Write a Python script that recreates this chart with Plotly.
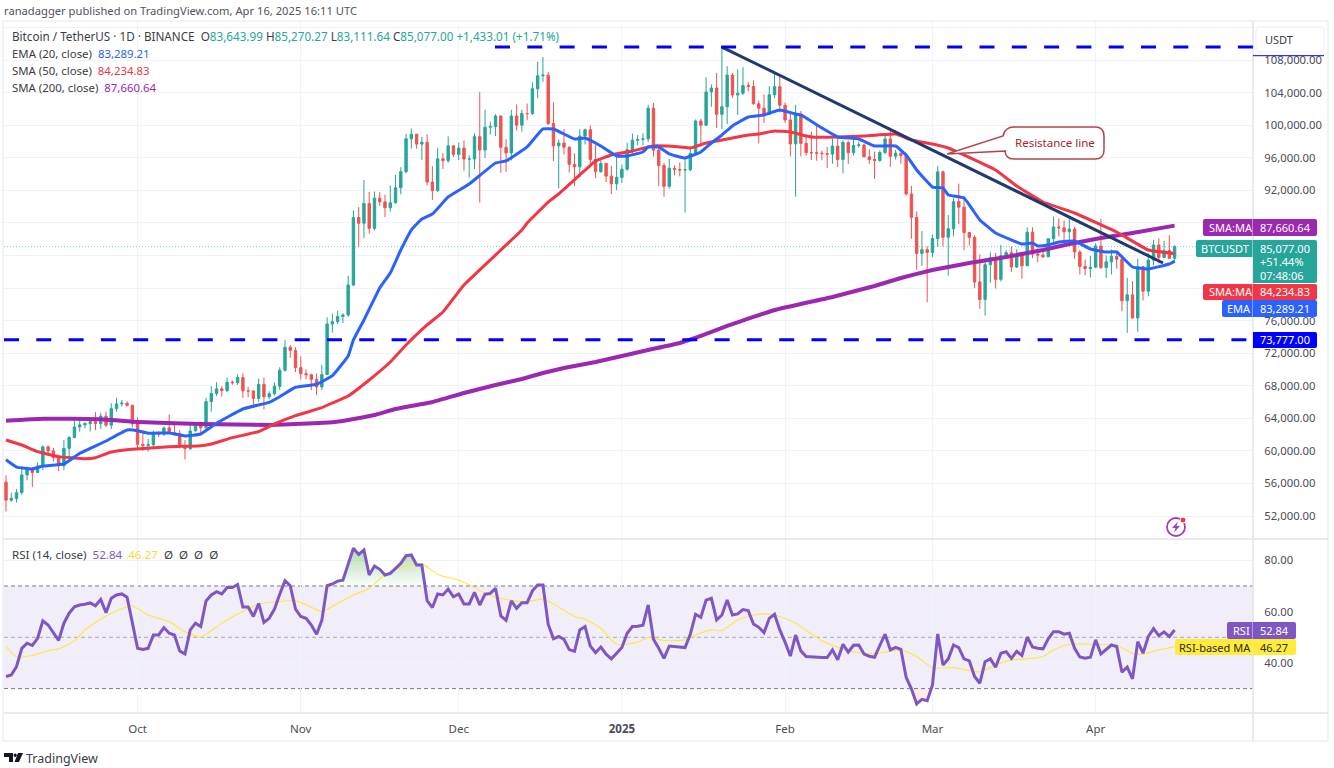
import pandas as pd
import plotly.graph_objects as go

START_DATE = "2024-09-06"
MONTH_TICKS = ["2024-10-01","2024-11-01","2024-12-01","2025-01-01","2025-02-01","2025-03-01","2025-04-01"]
MONTH_LABELS = ["Oct","Nov","Dec","<b>2025</b>","Feb","Mar","Apr"]
PRICE_TICKS = [52000,56000,60000,64000,68000,72000,76000,80000,84000,88000,92000,96000,100000,104000,108000,112000]
HIDDEN_PRICE_LABELS = [80000,84000,112000]
RSI_TICKS = [40,60,80]

opens = [
 56160,53949,54160,54869,57042,57635,57339,58127,60498,60000,59182,58192,60308,61649,62940,63192,63348,63578,63339,64262,63152,65173,65769,65858,65602,
 63327,60805,60649,60752,62086,62058,62819,62224,62132,60582,60274,62445,63193,62851,66046,67041,67612,67399,68418,68362,69001,67367,67361,66432,68161,66642,67014,67929,69907,72720,72339,
 70215,69482,69358,68775,67850,69372,75571,75857,76509,76677,80370,88648,87952,90375,87325,91032,90587,89855,90465,92310,94286,98317,98892,97672,97900,93010,91965,95863,95643,97460,
 96407,97185,95840,95849,98587,96945,99740,99831,101109,97276,96593,101125,100000,101424,101420,104463,106058,106133,100204,97461,97805,97291,95186,94881,98663,99429,95792,94299,95300,93738,92792,
 93576,94591,96984,98142,98236,98314,102078,96922,95043,92484,94701,94566,94488,94516,96534,100504,99987,104078,104556,101331,102260,106143,103706,103910,104870,104746,102620,102082,101335,103733,104722,
 102429,100635,97700,101328,97763,96613,96612,96554,96506,96444,97430,95778,97869,96608,97500,97569,96118,95780,95671,96644,98305,96181,96551,96258,91552,88680,84250,84708,
 84350,86064,94270,86221,87281,90606,89931,86801,86222,80734,78595,82858,83722,81066,83969,84343,82579,84075,82718,86854,84167,84043,83832,86054,87498,87392,86909,87232,84424,82648,82390,
 82550,85158,82516,83213,83889,83537,78430,79163,76322,82615,79607,83423,85276,83760,84591,83643.99]
highs = [
 56995,54850,55300,58100,58044,58000,58588,60670,60656,60381,59200,61338,61786,63850,64133,63561,64000,64745,64688,64817,65839,66498,66260,66076,65618,
 64130,62390,61468,62484,62370,62975,64478,63200,62543,61320,63417,63480,63292,66500,67950,68424,67939,69000,68668,69400,69500,67836,67400,68850,69000,67317,68400,70270,73620,72984,72700,
 71600,70000,69480,69500,70577,76400,76849,77199,76900,81500,89530,89940,93265,91790,91850,91779,91449,92594,93905,94831,98919,99588,98892,98564,98871,94973,97208,96564,98619,97463,
 97836,98130,96305,99000,104088,101898,100439,101350,101215,98270,101888,102540,101895,102650,105250,107780,108353,106524,102800,98233,99540,97400,96539,99487,99569,99963,97544,95733,95340,95024,96250,
 95151,97839,98976,98778,99000,102500,102724,97258,95340,95836,95050,95400,95900,97371,100700,100781,105865,104988,106422,109588,107240,106394,106850,107120,105286,105500,103000,103800,104782,106457,106012,
 102783,101456,102500,101732,98826,99197,100137,96880,97323,98345,98478,98119,98099,98826,97972,97704,97046,96753,96899,98711,99475,96980,96650,96500,92540,89414,87000,85120,
 86558,95000,94416,88967,91000,92810,91283,86897,86500,84123,83617,84358,84300,85309,84672,85117,84756,84075,87453,87443,84850,84513,86094,88765,88542,88292,88500,87515,84624,83534,83943,
 85487,88500,83998,84720,84266,83817,81243,80867,83588,82753,84300,85905,86100,85799,86496,85270.27]
lows = [
 52550,53741,53653,54591,56386,55550,57322,57632,59500,58696,57500,57610,59174,61555,62350,62758,62380,62538,62700,62947,62670,64819,65422,65432,62856,
 60164,60000,59900,60459,61689,61798,62128,61860,60300,58946,60087,62400,62050,62457,64800,66751,66666,67192,68105,68100,66518,66571,65260,66048,65088,66360,66800,67510,69730,71426,69685,
 68779,68788,67458,66835,67458,69298,74527,75555,75714,76492,80216,85072,86127,86668,87073,90056,88722,89376,90357,91500,94086,97122,97122,95734,92600,90791,91792,94620,95364,96092,
 95693,94395,93578,94587,90500,95981,98844,98657,94150,94256,95658,99311,99205,100600,101237,103322,105321,100000,95587,92232,96398,94202,92520,93569,97632,95199,93500,94135,93009,91530,92033,
 92888,94392,96500,97514,97500,97920,96132,92500,91203,92206,93831,93712,89256,94346,96500,97352,99950,102277,99651,99550,100119,103339,101262,103730,104106,102520,97777,100272,101256,103320,101560,
 100279,96150,91231,96150,96252,95707,95620,95688,94715,95256,94876,94088,95217,96252,97223,96046,95205,93388,95485,96415,94871,95770,95257,91349,86050,82256,82716,78258,
 83824,85050,85117,81500,86334,87836,84667,85218,80000,77459,76606,80635,79931,80797,83639,81981,82456,81134,82715,83655,83175,83674,83794,85519,86346,85858,85900,83585,81644,81565,81278,
 82432,82320,81211,81659,82379,77153,74508,76239,74620,78464,78969,82792,83034,83678,83600,83111.64]
closes = [
 53949,54160,54869,57042,57635,57339,58127,60498,60000,59182,58192,60308,61649,62940,63192,63348,63578,63339,64262,63152,65173,65769,65858,65602,63327,
 60805,60649,60752,62086,62058,62819,62224,62132,60582,60274,62445,63193,62851,66046,67041,67612,67399,68418,68362,69001,67367,67361,66432,68161,66642,67014,67929,69907,72720,72339,70215,
 69482,69358,68775,67850,69372,75571,75857,76509,76677,80370,88647,87952,90375,87325,91032,90586,89855,90464,92310,94286,98317,98892,97672,97900,93010,91965,95863,95643,97460,96407,
 97185,95840,95849,98587,96945,99740,99831,101109,97276,96593,101125,100000,101424,101420,104463,106058,106133,100204,97461,97805,97291,95186,94881,98663,99429,95792,94299,95300,93738,92792,93576,
 94591,96984,98142,98236,98314,102078,96922,95043,92484,94701,94566,94488,94516,96534,100504,99987,104077,104556,101331,102260,106143,103706,103910,104870,104746,102620,102082,101335,103733,104722,102429,
 100635,97700,101328,97763,96613,96611,96554,96506,96444,97430,95778,97869,96608,97500,97569,96118,95780,95671,96644,98305,96181,96551,96258,91552,88680,84250,84708,84350,
 86064,94270,86221,87281,90606,89931,86801,86222,80734,78595,82858,83722,81066,83969,84343,82579,84075,82718,86854,84167,84043,83832,86054,87498,87392,86909,87232,84424,82648,82390,82550,
 85158,82516,83213,83889,83537,78430,79163,76322,82615,79607,83423,85276,83760,84591,83643,85077]

ema20_day = [0,2,5,7,11,14,19,23,25,27,31,34,37,40,45,50,52,55,59,62,65,66,68,71,73,75,77,79,81,84,88,93,95,99,102,104,108,110,113,116,118,121,122,124,126,128,129,132,134,136,138,141,144,147,150,151,155,158,162,165,169,171,173,176,178,179,182,185,188,193,195,196,198,200,203,206,209,211,214,217,221,222]
ema20 = [58900,58000,57775,58140,58390,59700,61210,62560,62480,62160,62200,61830,62070,63390,65140,65960,66650,67810,68180,69230,71650,73620,76070,80000,81840,84670,87120,88470,89090,91180,92770,95350,95600,97320,99530,99530,98300,98420,97440,96210,96210,96700,97320,97320,96460,96090,95970,96700,97810,98790,99900,101000,101250,101860,101370,101250,99650,98540,98300,97440,97440,96330,94490,92400,92280,91420,91050,88350,86750,85400,85530,85160,85280,85650,85770,84790,84420,84420,82580,82330,82950,83289.21]

sma50_day = [0,3,6,10,15,17,20,24,31,37,39,43,48,51,55,60,62,65,69,73,76,80,83,87,94,98,99,103,105,109,112,115,119,123,128,130,133,136,141,143,146,149,153,158,163,169,172,176,179,188,192,197,203,211,217,222]
sma50 = [61340,60720,59900,59290,59040,59160,59860,60190,60510,60640,60840,61620,62360,63300,64320,65300,65880,66740,68700,70910,73000,75460,77050,80370,84670,87120,87980,90560,91550,93880,95600,96330,96820,97440,97320,97190,97810,98180,98790,98910,99280,99160,98540,98540,98670,98910,98180,97680,97190,94490,92530,90560,89210,86880,84670,84234.83]

sma200_day = [0,7,18,24,37,50,62,65,70,74,81,87,93,98,102,106,112,117,122,128,132,137,146,157,165,170,176,183,190,197,202,208,214,222]
sma200 = [63710,63950,63880,63580,63300,63180,63500,63790,64410,65140,66000,67110,68090,68830,69560,70180,70910,71650,72390,73250,74110,75340,77300,78900,80250,81230,82210,83070,83810,84670,85400,86140,86760,87660.64]

rsi = [
 34.7,35.3,38.6,45.7,47.7,46.8,49.6,56.4,54.8,51.8,48.8,55.5,59.4,61.9,62.6,62.9,63.4,62.3,64.8,59.6,65.2,66.5,66.9,65.6,55.5,
 45.7,45.3,45.7,50.9,50.9,53.8,51.6,50.9,44.7,43.5,52.9,55.5,54.2,64.2,66.5,67.8,66.9,69.4,69.4,70.6,61.8,61.8,58.1,63.2,55.8,57.4,61.0,66.8,72.1,70.1,61.0,
 58.1,57.4,54.8,51.2,56.6,70.1,70.8,71.9,72.3,78.2,84.7,82.3,84.0,74.3,77.8,76.5,74.3,74.9,76.9,78.8,81.8,82.1,78.2,78.2,64.3,61.6,66.9,66.5,68.8,65.8,
 66.9,63.0,63.0,67.5,62.6,66.8,67.1,69.1,58.3,56.6,64.2,61.3,63.5,63.5,68.1,70.4,70.4,55.1,49.4,50.3,49.2,45.2,44.5,52.9,54.2,46.6,44.0,46.2,43.4,41.6,43.8,
 46.0,51.6,54.2,54.3,54.7,62.6,49.2,45.7,41.8,46.6,46.4,46.1,46.0,51.2,59.0,57.8,64.5,65.2,56.8,58.7,64.5,58.7,59.1,60.8,60.4,55.2,53.9,51.8,57.4,59.0,52.9,
 48.1,42.7,50.9,44.7,42.5,42.3,42.3,42.1,42.1,45.1,41.2,47.3,44.2,46.9,47.0,43.5,42.6,42.2,46.8,51.2,45.1,46.1,45.3,34.4,29.9,24.0,25.8,25.3,
 31.4,51.3,39.2,41.6,47.0,46.0,41.6,40.8,34.7,32.1,40.5,41.6,38.3,43.8,44.4,41.8,44.5,42.9,50.1,46.2,45.7,45.5,49.4,52.2,52.2,51.2,51.6,45.7,42.3,41.8,42.2,
 49.0,43.5,45.1,47.0,46.4,36.4,38.4,33.8,48.3,43.8,50.3,53.4,50.6,52.1,50.3,52.84]
rsi_ma_day = [0,2,5,8,10,13,15,17,20,24,27,31,34,37,41,44,48,51,55,58,60,63,66,69,72,75,79,82,86,88,91,93,96,99,102,104,108,110,113,116,120,122,125,129,131,134,136,139,143,146,150,155,160,165,170,173,176,180,185,188,191,194,197,199,202,206,211,214,216,219,222]
rsi_ma = [46.4,42.5,42.9,44.8,45.5,48.6,52.9,55.8,59.4,62.2,58.7,56.1,52.2,50.1,55.5,59.1,63.0,63.8,64.3,61.7,60.0,63.2,66.5,69.1,74.5,77.1,78.6,74.5,72.3,70.5,67.1,65.6,64.5,63.9,64.9,63.0,58.1,57.1,53.5,47.3,48.1,49.9,48.7,49.0,50.9,52.9,52.6,56.8,59.0,58.7,55.5,48.6,44.7,43.5,45.1,42.5,38.2,38.2,36.5,39.2,41.2,41.6,42.5,45.1,47.3,47.3,46.9,43.8,43.4,45.1,46.27]

assert len(opens)==len(highs)==len(lows)==len(closes)==len(rsi)==223, (len(opens),len(highs),len(lows),len(closes),len(rsi))

W, H = 1334, 768
PANE_L, PANE_R, PANE_T, PANE_M, PANE_B = 4, 1253, 22, 539, 713
PX_PER_DAY, FIRST_X = 5.264, 6
PX_PER_USD = 456/56000
RSI_PX = 2.565

dates = pd.date_range(START_DATE, periods=len(closes), freq="D")
def day(i): return dates[0] + pd.Timedelta(days=i)
def dd(lst): return [day(i) for i in lst]
xrange_ = [day((PANE_L-FIRST_X)/PX_PER_DAY), day((PANE_R-FIRST_X)/PX_PER_DAY)]
yrange_ = [52000-(PANE_M-516)/PX_PER_USD, 108000+(60-PANE_T)/PX_PER_USD]
rrange_ = [50-(PANE_B-637.3)/RSI_PX, 50+(637.3-PANE_M)/RSI_PX]

px = lambda x: x/W
py = lambda y: 1-y/H
UP, DOWN = "#26a69a", "#ef5350"
GRID = "#f0f3fa"
BORDER = "#e0e3eb"
TEXT = "#4a4d57"
FONT = "Noto Sans"

fig = go.Figure()
# RSI band and fills
fig.add_trace(go.Scatter(x=dates, y=[70]*len(rsi), xaxis="x2", yaxis="y2", mode="lines", line=dict(width=0), hoverinfo="skip", showlegend=False))
fig.add_trace(go.Scatter(x=dates, y=[max(v,70) for v in rsi], xaxis="x2", yaxis="y2", mode="lines", line=dict(width=0), fill="tonexty",
    fillgradient=dict(type="vertical", colorscale=[[0,"rgba(76,175,80,0.02)"],[1,"rgba(76,175,80,0.45)"]]), hoverinfo="skip", showlegend=False))
fig.add_trace(go.Scatter(x=dates, y=[30]*len(rsi), xaxis="x2", yaxis="y2", mode="lines", line=dict(width=0), hoverinfo="skip", showlegend=False))
fig.add_trace(go.Scatter(x=dates, y=[min(v,30) for v in rsi], xaxis="x2", yaxis="y2", mode="lines", line=dict(width=0), fill="tonexty",
    fillcolor="rgba(242,54,69,0.10)", hoverinfo="skip", showlegend=False))
fig.add_trace(go.Scatter(x=dd(rsi_ma_day), y=rsi_ma, xaxis="x2", yaxis="y2", mode="lines", line=dict(color="#fde74c", width=1.2, shape="spline", smoothing=0.6), showlegend=False))
fig.add_trace(go.Scatter(x=dates, y=rsi, xaxis="x2", yaxis="y2", mode="lines", line=dict(color="#7e57c2", width=3), showlegend=False))

# moving averages below the candles
fig.add_trace(go.Scatter(x=dd(sma200_day), y=sma200, mode="lines", line=dict(color="#9c27b0", width=4, shape="spline", smoothing=0.3), showlegend=False))
fig.add_trace(go.Candlestick(x=dates, open=opens, high=highs, low=lows, close=closes, whiskerwidth=0,
    increasing=dict(line=dict(color=UP, width=1), fillcolor=UP),
    decreasing=dict(line=dict(color=DOWN, width=1), fillcolor=DOWN), showlegend=False))
fig.add_trace(go.Scatter(x=dd(sma50_day), y=sma50, mode="lines", line=dict(color="#f23645", width=3, shape="spline", smoothing=0.3), showlegend=False))
fig.add_trace(go.Scatter(x=dd(ema20_day), y=ema20, mode="lines", line=dict(color="#2962ff", width=3, shape="spline", smoothing=0.3), showlegend=False))
# drawn resistance trend line
fig.add_trace(go.Scatter(x=[day(136), day(219.8)], y=[109588, 83070], mode="lines", line=dict(color="#1e3a70", width=3), showlegend=False))

shapes, anns = [], []
def line_px(x0,y0,x1,y1,color,width=1,dash="solid",layer="above"):
    shapes.append(dict(type="line", xref="paper", yref="paper", x0=px(x0), y0=py(y0), x1=px(x1), y1=py(y1), line=dict(color=color,width=width,dash=dash), layer=layer))
def rrect(x0,y0,x1,y1,fill,r=3,line="rgba(0,0,0,0)",lw=0,rl=True,rr=True):
    rL = r if rl else 0; rR = r if rr else 0
    p = (f"M{px(x0+rL)},{py(y0)} L{px(x1-rR)},{py(y0)} Q{px(x1)},{py(y0)} {px(x1)},{py(y0+rR)} "
         f"L{px(x1)},{py(y1-rR)} Q{px(x1)},{py(y1)} {px(x1-rR)},{py(y1)} L{px(x0+rL)},{py(y1)} "
         f"Q{px(x0)},{py(y1)} {px(x0)},{py(y1-rL)} L{px(x0)},{py(y0+rL)} Q{px(x0)},{py(y0)} {px(x0+rL)},{py(y0)} Z")
    shapes.append(dict(type="path", xref="paper", yref="paper", path=p, fillcolor=fill, line=dict(color=line,width=lw), layer="above"))
def text(x,y,s,color=TEXT,size=11.5,anchor="left",font=FONT):
    anns.append(dict(xref="paper", yref="paper", x=px(x), y=py(y), text=s, showarrow=False, xanchor=anchor, yanchor="middle",
                     font=dict(family=font,size=size,color=color), borderpad=0, borderwidth=0))

# frame
shapes.append(dict(type="rect", xref="paper", yref="paper", x0=px(3), y0=py(21), x1=px(1328), y1=py(741), line=dict(color=GRID,width=2), fillcolor="rgba(0,0,0,0)", layer="below"))
line_px(PANE_L,PANE_M,1328,PANE_M,BORDER,1.5)
line_px(PANE_L,PANE_B,1328,PANE_B,BORDER,1.5)
line_px(PANE_R,21,PANE_R,741,BORDER,1.5)

# RSI band
shapes.append(dict(type="rect", xref="paper", yref="y2", x0=px(PANE_L), x1=px(PANE_R), y0=30, y1=70, fillcolor="rgba(126,87,194,0.10)", line=dict(width=0), layer="below"))
for lv,col in [(70,"#787b86"),(50,"rgba(120,123,134,0.6)"),(30,"#787b86")]:
    shapes.append(dict(type="line", xref="paper", yref="y2", x0=px(PANE_L), x1=px(PANE_R), y0=lv, y1=lv, line=dict(color=col,width=1,dash="4px,3px"), layer="below"))

# last price dotted, horizontal levels
shapes.append(dict(type="line", xref="paper", yref="y", x0=px(PANE_L), x1=px(1196), y0=closes[-1], y1=closes[-1], line=dict(color="rgba(38,166,154,0.6)",width=1,dash="1px,2px"), layer="below"))
shapes.append(dict(type="line", xref="paper", yref="y", x0=px(495), x1=px(PANE_R), y0=109600, y1=109600, line=dict(color="#0000ff",width=3,dash="15px,17.3px"), layer="above"))
shapes.append(dict(type="line", xref="paper", yref="y", x0=px(PANE_L), x1=px(PANE_R), y0=73650, y1=73650, line=dict(color="#0000ff",width=3,dash="15px,17.3px"), layer="above"))
line_px(1253,55.7,1324,55.7,"#0000ff",1)

# callout
cx0,cy0,cx1,cy1,r = 1005,127,1104,159,9
callout = (f"M{px(cx0+r)},{py(cy0)} L{px(cx1-r)},{py(cy0)} Q{px(cx1)},{py(cy0)} {px(cx1)},{py(cy0+r)} L{px(cx1)},{py(cy1-r)} "
           f"Q{px(cx1)},{py(cy1)} {px(cx1-r)},{py(cy1)} L{px(cx0+r)},{py(cy1)} Q{px(cx0)},{py(cy1)} {px(cx0)},{py(cy1-r)} "
           f"L{px(cx0)},{py(151)} L{px(947)},{py(154)} L{px(1003)},{py(136)} Q{px(cx0)},{py(cy0)} {px(cx0+r)},{py(cy0)} Z")
shapes.append(dict(type="path", xref="paper", yref="paper", path=callout, fillcolor="#ffffff", line=dict(color="#b0474d",width=1.5), layer="above"))
text(1054.5,143,"Resistance line","#a5252d",11.5,"center")

# USDT button and tags
rrect(1256,27,1324,52,"#ffffff",4,line=GRID,lw=1.5)
text(1265,39.5,"USDT","#3a3d46",11)
VAL_L, VAL_R = 1253, 1317
rrect(1203,219,1252.5,236,"#9c27b0",2,rr=False); rrect(VAL_L,219,VAL_R,236,"#9c27b0",2,rl=False)
rrect(1196,240,1252.5,257,UP,2,rr=False); rrect(VAL_L,240,VAL_R,283,UP,2,rl=False)
rrect(1203,284,1252.5,300,"#f23645",2,rr=False); rrect(VAL_L,284,VAL_R,300,"#f23645",2,rl=False)
rrect(1222,300,1252.5,317,"#2962ff",2,rr=False); rrect(VAL_L,300,VAL_R,317,"#2962ff",2,rl=False)
rrect(VAL_L,332,VAL_R,348,"#0000ff",2,rl=False)
rrect(1227,622,1252.5,639,"#7e57c2",2,rr=False); rrect(VAL_L,622,1296,639,"#7e57c2",2,rl=False)
rrect(1175,639,1252.5,655,"#ffeb3b",2,rr=False); rrect(VAL_L,639,1296,655,"#ffeb3b",2,rl=False)
W_ = "#ffffff"
for x,y,s in [(1209,227.5,"SMA:MA"),(1200.5,248.5,"BTCUSDT"),(1209,292,"SMA:MA"),(1227,308.5,"EMA"),(1233,630.5,"RSI")]:
    text(x,y,s,W_,11)
text(1179,647,"RSI-based MA","#2a2a20",11)
for y,s in [(227.5,"87,660.64"),(248.5,"85,077.00"),(262,"+51.44%"),(275,"07:48:06"),(292,"84,234.83"),(308.5,"83,289.21"),(340,"73,777.00")]:
    text(1260,y,s,W_,11)
text(1260,630.5,"52.84",W_,11)
text(1260,647,"46.27","#2a2a20",11)

# bolt icon
shapes.append(dict(type="circle", xref="paper", yref="paper", x0=px(1167), x1=px(1185), y0=py(536), y1=py(518), line=dict(color="#a73bc0",width=1.8), fillcolor="#ffffff", layer="above"))
shapes.append(dict(type="path", xref="paper", yref="paper", layer="above", fillcolor="#a73bc0", line=dict(width=0),
    path=f"M{px(1178)},{py(521.5)} L{px(1172)},{py(528)} L{px(1175.5)},{py(528)} L{px(1174)},{py(532.5)} L{px(1180)},{py(526)} L{px(1176.5)},{py(526)} Z"))
shapes.append(dict(type="circle", xref="paper", yref="paper", x0=px(1180), x1=px(1186), y0=py(523), y1=py(517), line=dict(color="#ffffff",width=1), fillcolor="#f23645", layer="above"))

# logo
shapes.append(dict(type="path", xref="paper", yref="paper", layer="above", fillcolor="#131722", line=dict(width=0),
    path=f"M{px(4)},{py(753)} L{px(13)},{py(753)} L{px(13)},{py(762)} L{px(9)},{py(762)} L{px(9)},{py(757)} L{px(4)},{py(757)} Z M{px(18)},{py(753)} L{px(23)},{py(753)} L{px(19)},{py(762)} L{px(14.5)},{py(762)} Z"))
shapes.append(dict(type="circle", xref="paper", yref="paper", x0=px(13.6), x1=px(16.8), y0=py(757), y1=py(753.6), fillcolor="#131722", line=dict(width=0), layer="above"))
text(26,758,"TradingView","#3a3d46",12.5)

# header + legend
text(4,10.5,"ranadagger published on TradingView.com, Apr 16, 2025 16:11 UTC","#50535e",11.2)
T = UP
leg = ("Bitcoin / TetherUS · 1D · BINANCE&nbsp;&nbsp;O"
       f"<span style='color:{T}'>83,643.99</span>&nbsp;H<span style='color:{T}'>85,270.27</span>&nbsp;L<span style='color:{T}'>83,111.64</span>"
       f"&nbsp;C<span style='color:{T}'>85,077.00</span>&nbsp;<span style='color:{T}'>+1,433.01 (+1.71%)</span>")
text(12,36.5,leg,"#3a3d46",11.7)
text(12,53.5,"EMA (20, close)&nbsp;&nbsp;<span style='color:#2962ff'>83,289.21</span>","#3a3d46",11.4)
text(12,70,"SMA (50, close)&nbsp;&nbsp;<span style='color:#f23645'>84,234.83</span>","#3a3d46",11.4)
text(12,87,"SMA (200, close)&nbsp;&nbsp;<span style='color:#9c27b0'>87,660.64</span>","#3a3d46",11.4)
text(12,554.5,"RSI (14, close)&nbsp;&nbsp;<span style='color:#7e57c2'>52.84</span>&nbsp;&nbsp;<span style='color:#fdd835'>46.27</span>&nbsp;&nbsp;Ø&nbsp;&nbsp;Ø&nbsp;&nbsp;Ø&nbsp;&nbsp;Ø","#3a3d46",11.6)

price_text = ["" if v in HIDDEN_PRICE_LABELS else f"{v:,.2f}" for v in PRICE_TICKS]
rsi_text = [f"{v:.2f}" for v in RSI_TICKS]
common_x = dict(range=xrange_, type="date", tickvals=MONTH_TICKS, showgrid=True, gridcolor=GRID, gridwidth=1, zeroline=False, showline=False)

fig.update_layout(
    width=W, height=H, autosize=False, margin=dict(l=0,r=0,t=0,b=0), paper_bgcolor="#ffffff", plot_bgcolor="#ffffff", showlegend=False,
    font=dict(family=FONT,size=11,color=TEXT), boxgap=0.35, hovermode=False,
    xaxis=dict(domain=[px(PANE_L),px(PANE_R)], anchor="y", showticklabels=False, ticks="", rangeslider=dict(visible=False), **common_x),
    xaxis2=dict(domain=[px(PANE_L),px(PANE_R)], anchor="y2", ticktext=MONTH_LABELS, ticks="outside", ticklen=5, tickcolor="rgba(0,0,0,0)",
                tickfont=dict(family=FONT,size=11.5,color=TEXT), **common_x),
    yaxis=dict(domain=[py(PANE_M),py(PANE_T)], range=yrange_, side="right", anchor="x", tickvals=PRICE_TICKS, ticktext=price_text,
               showgrid=True, gridcolor=GRID, zeroline=False, ticks="outside", ticklen=8, tickcolor="rgba(0,0,0,0)", tickfont=dict(family=FONT,size=11.3,color=TEXT)),
    yaxis2=dict(domain=[py(PANE_B),py(PANE_M)], range=rrange_, side="right", anchor="x2", tickvals=RSI_TICKS, ticktext=rsi_text,
                showgrid=True, gridcolor=GRID, zeroline=False, ticks="outside", ticklen=8, tickcolor="rgba(0,0,0,0)", tickfont=dict(family=FONT,size=11.3,color=TEXT)),
    shapes=shapes, annotations=anns,
)
fig.write_html("out.html", config={"displayModeBar": False}, post_script="document.body.style.margin='0';document.body.style.overflow='hidden';")
